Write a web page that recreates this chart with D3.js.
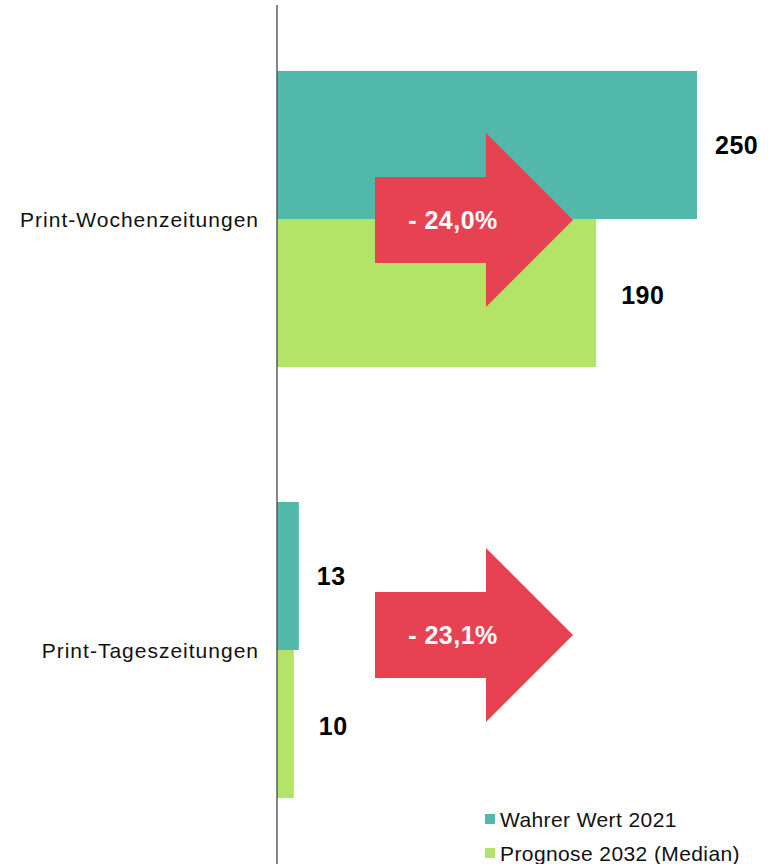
<!DOCTYPE html>
<html>
<head>
<meta charset="utf-8">
<style>
  body { margin: 0; background: #fff; }
  text { font-family: "Liberation Sans", Arial, sans-serif; }
</style>
</head>
<body>
<svg width="774" height="864"></svg>
<script src="https://d3js.org/d3.v7.min.js"></script>
<script>
var categories = ["Print-Wochenzeitungen", "Print-Tageszeitungen"];
var wahrerWert2021 = [250, 13];
var prognose2032 = [190, 10];
var seriesNames = ["Wahrer Wert 2021", "Prognose 2032 (Median)"];
var colors = ["#52b9aa", "#b3e467"];
var arrowColor = "#e64252";

var svg = d3.select("svg");
var x0 = 277;

var x = d3.scaleLinear().domain([0, 250]).range([x0, 697]);

var y = d3.scaleBand()
  .domain(categories)
  .range([5, 864])
  .paddingInner(0.313)
  .paddingOuter(0.153);

var bh = y.bandwidth() / 2;
var fmt = d3.format(".1f");

categories.forEach(function(c, i) {
  var top = y(c);
  var vals = [wahrerWert2021[i], prognose2032[i]];
  var offs = [18, 25];
  vals.forEach(function(v, j) {
    svg.append("rect")
      .attr("x", x0)
      .attr("y", top + j * bh)
      .attr("width", x(v) - x0)
      .attr("height", bh)
      .attr("fill", colors[j]);
    svg.append("text")
      .attr("x", x(v) + offs[j])
      .attr("y", top + j * bh + bh / 2 + (j ? 2 : 0))
      .attr("dy", "0.35em")
      .attr("font-size", 25)
      .attr("font-weight", "bold")
      .attr("letter-spacing", 0.5)
      .attr("fill", "#000")
      .text(v);
  });

  // category label
  svg.append("text")
    .attr("x", 259)
    .attr("y", top + bh + 1)
    .attr("dy", "0.35em")
    .attr("text-anchor", "end")
    .attr("font-size", 21)
    .attr("letter-spacing", 1)
    .attr("fill", "#111")
    .text(c);

  // arrow (second one sits a bit above the band centre)
  var cy = top + bh + (i === 1 ? -15 : 1);
  var pts = [
    [375, cy - 43], [486, cy - 43], [486, cy - 87], [573, cy],
    [486, cy + 87], [486, cy + 43], [375, cy + 43]
  ];
  svg.append("path")
    .attr("d", d3.line()(pts) + "Z")
    .attr("fill", arrowColor);

  var change = (prognose2032[i] - wahrerWert2021[i]) / wahrerWert2021[i] * 100;
  svg.append("text")
    .attr("x", 453)
    .attr("y", cy)
    .attr("dy", "0.35em")
    .attr("text-anchor", "middle")
    .attr("font-size", 25)
    .attr("font-weight", "bold")
    .attr("letter-spacing", 0.5)
    .attr("fill", "#fff")
    .text("- " + fmt(Math.abs(change)).replace(".", ",") + "%");
});

// axis line
svg.append("line")
  .attr("x1", x0).attr("x2", x0)
  .attr("y1", 5).attr("y2", 864)
  .attr("stroke", "#444")
  .attr("stroke-width", 1.3);

// legend
var legend = svg.append("g");
seriesNames.forEach(function(s, i) {
  var ly = 819 + i * 34;
  legend.append("rect")
    .attr("x", 485).attr("y", ly - 5)
    .attr("width", 10).attr("height", 10)
    .attr("fill", colors[i]);
  legend.append("text")
    .attr("x", 500).attr("y", ly + 1)
    .attr("dy", "0.35em")
    .attr("font-size", 21)
    .attr("letter-spacing", 0.4)
    .attr("fill", "#111")
    .text(s);
});
</script>
</body>
</html>
